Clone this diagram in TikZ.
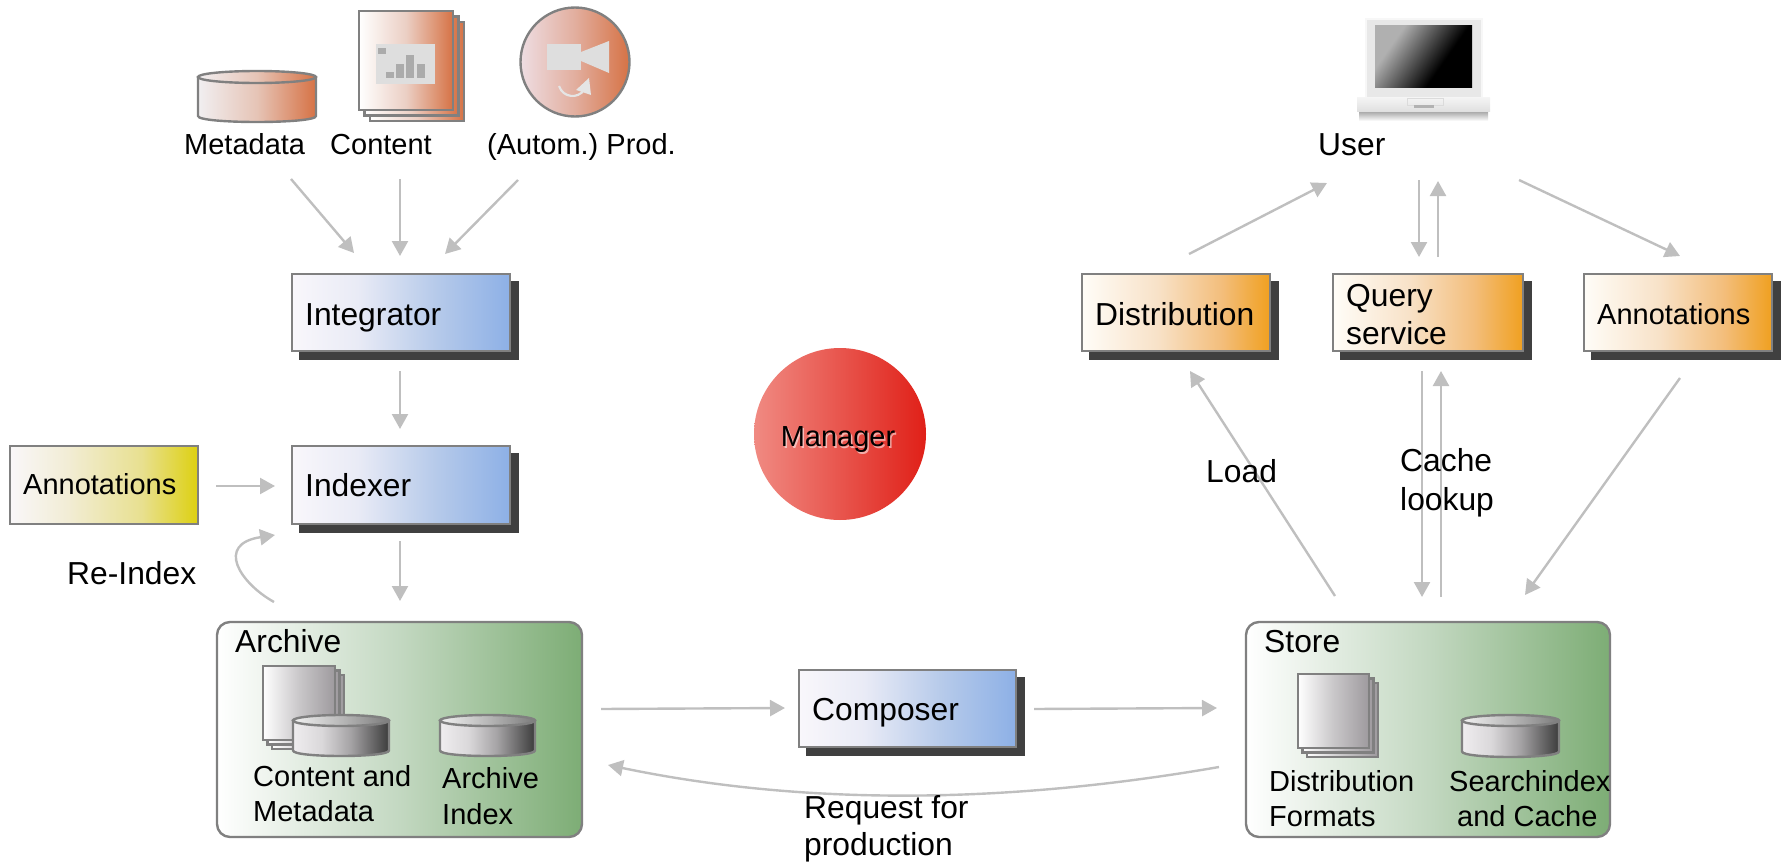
\documentclass[tikz,border=0pt]{standalone}
\usepackage{fontspec}
\setmainfont{Liberation Sans}
\usetikzlibrary{arrows.meta}
\definecolor{cWA}{HTML}{F9F7FB}\definecolor{cWB}{HTML}{E9EBF6}\definecolor{cWC}{HTML}{B6CAEA}\definecolor{cWD}{HTML}{8DB0E6}
\definecolor{cOA}{HTML}{FFFDF8}\definecolor{cOB}{HTML}{F8E2C8}\definecolor{cOC}{HTML}{F3BE7C}\definecolor{cOD}{HTML}{F0A020}
\definecolor{cYA}{HTML}{F9F7F9}\definecolor{cYB}{HTML}{F2EDD6}\definecolor{cYC}{HTML}{E8E090}\definecolor{cYD}{HTML}{DDD010}
\definecolor{cGA}{HTML}{FFFFFF}\definecolor{cGB}{HTML}{C3D8C1}\definecolor{cGC}{HTML}{7DAD75}
\definecolor{cDA}{HTML}{FFFFFF}\definecolor{cDB}{HTML}{C9C7C9}\definecolor{cDC}{HTML}{9E9A9E}
\definecolor{cCA}{HTML}{EFEDEF}\definecolor{cCB}{HTML}{DAD8DA}\definecolor{cCC}{HTML}{A5A3A5}\definecolor{cCD}{HTML}{3C3C3C}
\definecolor{cTA}{HTML}{F2F2F2}\definecolor{cTB}{HTML}{B8B8B8}\definecolor{cTC}{HTML}{7C7C7C}
\definecolor{cRA}{HTML}{FFFFFF}\definecolor{cRB}{HTML}{EBCFC4}\definecolor{cRC}{HTML}{D67245}
\definecolor{cSA}{HTML}{F1EFF1}\definecolor{cSB}{HTML}{E6C4B6}\definecolor{cSC}{HTML}{D67245}
\definecolor{cPA}{HTML}{EEDDE2}\definecolor{cPB}{HTML}{E2AE9E}\definecolor{cPC}{HTML}{D67245}
\definecolor{cMA}{HTML}{F08A82}\definecolor{cMB}{HTML}{E02018}
\definecolor{cLA}{HTML}{B0B0B0}\definecolor{cLB}{HTML}{000000}
\definecolor{edgegray}{HTML}{808080}\definecolor{arrowgray}{HTML}{BFBFBF}\definecolor{shadowgray}{HTML}{404040}
\pgfdeclarehorizontalshading{blueshade}{100bp}{color(0bp)=(cWA);color(25bp)=(cWA);color(40bp)=(cWB);color(58bp)=(cWC);color(75bp)=(cWD);color(100bp)=(cWD)}
\pgfdeclarehorizontalshading{orangeshade}{100bp}{color(0bp)=(cOA);color(25bp)=(cOA);color(45bp)=(cOB);color(62bp)=(cOC);color(75bp)=(cOD);color(100bp)=(cOD)}
\pgfdeclarehorizontalshading{yellowshade}{100bp}{color(0bp)=(cYA);color(25bp)=(cYA);color(40bp)=(cYB);color(60bp)=(cYC);color(75bp)=(cYD);color(100bp)=(cYD)}
\pgfdeclarehorizontalshading{greenshade}{100bp}{color(0bp)=(cGA);color(25bp)=(cGA);color(50bp)=(cGB);color(75bp)=(cGC);color(100bp)=(cGC)}
\pgfdeclarehorizontalshading{docshade}{100bp}{color(0bp)=(cDA);color(25bp)=(cDA);color(50bp)=(cDB);color(75bp)=(cDC);color(100bp)=(cDC)}
\pgfdeclarehorizontalshading{cylshade}{100bp}{color(0bp)=(cCA);color(25bp)=(cCA);color(40bp)=(cCB);color(55bp)=(cCC);color(75bp)=(cCD);color(100bp)=(cCD)}
\pgfdeclarehorizontalshading{cyltop}{100bp}{color(0bp)=(cTA);color(25bp)=(cTA);color(50bp)=(cTB);color(75bp)=(cTC);color(100bp)=(cTC)}
\pgfdeclarehorizontalshading{reddoc}{100bp}{color(0bp)=(cRA);color(25bp)=(cRA);color(50bp)=(cRB);color(75bp)=(cRC);color(100bp)=(cRC)}
\pgfdeclarehorizontalshading{redcyl}{100bp}{color(0bp)=(cSA);color(25bp)=(cSA);color(50bp)=(cSB);color(75bp)=(cSC);color(100bp)=(cSC)}
\pgfdeclarehorizontalshading{redcirc}{100bp}{color(0bp)=(cPA);color(25bp)=(cPA);color(50bp)=(cPB);color(75bp)=(cPC);color(100bp)=(cPC)}
\pgfdeclarehorizontalshading{mgrshade}{100bp}{color(0bp)=(cMA);color(25bp)=(cMA);color(75bp)=(cMB);color(100bp)=(cMB)}
\pgfdeclarehorizontalshading{screenshade}{100bp}{color(0bp)=(cLA);color(30bp)=(cLA);color(62bp)=(cLB);color(100bp)=(cLB)}
\tikzset{
  flow/.style={draw=arrowgray,line width=2.4pt,-{Triangle[length=15pt,width=16pt]}},
  txt/.style={anchor=base west,inner sep=0pt,font=\fontsize{31.8}{36}\selectfont},
  small/.style={anchor=base west,inner sep=0pt,font=\fontsize{29}{33}\selectfont},
  outline/.style={draw=edgegray,line width=2.4pt},
}
% \shbox{name}{x1}{y1}{x2}{y2}{shading}
\newcommand{\shbox}[6]{%
  \fill[shadowgray] ({#2+7},{#3+7}) rectangle ({#4+9},{#5+9});
  \node[outline,shading=#6,shading angle=0,minimum width={#4-#2},minimum height={#5-#3},inner sep=0pt,outer sep=0pt,anchor=north west] (#1) at (#2,#3) {};}
% \docstack{x1}{y1}{x2}{y2}{off}{shading}
\newcommand{\docstack}[6]{%
  \draw[outline,shading=#6,shading angle=0] ({#1+2*#5},{#2+2*#5}) rectangle ({#3+2*#5},{#4+2*#5});
  \draw[outline,shading=#6,shading angle=0] ({#1+#5},{#2+#5}) rectangle ({#3+#5},{#4+#5});
  \draw[outline,shading=#6,shading angle=0] (#1,#2) rectangle (#3,#4);}
% \cyl{x1}{ytop}{x2}{ybot}{ry}{body}{top}
\newcommand{\cyl}[7]{%
  \draw[outline,shading=#6,shading angle=0] (#1,{#2+#5}) -- (#1,{#4-#5}) .. controls (#1,{#4+#5/3}) and (#3,{#4+#5/3}) .. (#3,{#4-#5}) -- (#3,{#2+#5}) -- cycle;
  \draw[outline,shading=#7,shading angle=0] ({(#1+#3)/2},{#2+#5}) ellipse [x radius={(#3-#1)/2},y radius=#5];}
\begin{document}
\frenchspacing
\begin{tikzpicture}[x=1pt,y=-1pt]
\useasboundingbox (0,0) rectangle (1789,862);
% top sources
\cyl{198}{71}{316}{122}{6}{redcyl}{redcyl}
\docstack{359}{11}{453}{110}{5.5}{reddoc}
\fill[black!13] (376,44) rectangle (435,84);
\fill[black!33] (378,48) rectangle (386,54);
\fill[black!33] (386,72) rectangle (394,78);
\fill[black!33] (396,64) rectangle (404,78);
\fill[black!33] (406,55) rectangle (414,78);
\fill[black!33] (417,64) rectangle (425,78);
\node[outline,circle,shading=redcirc,shading angle=0,minimum size=109pt,inner sep=0pt] (prodicon) at (575,62) {};
\fill[black!13] (547,44) rectangle (581,70);
\fill[black!13] (581,52) -- (609,41) -- (609,73) -- (581,61) -- cycle;
\draw[black!10,line width=2.2pt] (559,86) .. controls (563,98) and (578,99) .. (584,90);
\fill[black!10] (589,78) -- (591,95) -- (576,90) -- cycle;
\node[small] (metadata) at (184,154) {Metadata};
\node[small] (content) at (330,154) {Content};
\node[small] (prod) at (487,154) {(Autom.) Prod.};
% laptop
\fill[black!3] (1365,18) rectangle (1483,100);
\fill[black!9] (1367,20) rectangle (1481,100);
\shade[shading=screenshade,shading angle=-35] (1375,25) rectangle (1472,87);
\shade[top color=black!40,bottom color=white] (1359,110) rectangle (1488,121);
\shade[top color=black!4,bottom color=black!12] (1357,97) -- (1490,97) -- (1490,111) -- (1357,111) -- cycle;
\draw[black!14,line width=1pt] (1407,98) rectangle (1443,105);
\fill[black!30] (1414,105) rectangle (1434,108);
\node[txt] (user) at (1318,155) {User};
% boxes
\shbox{integrator}{292}{274}{510}{351}{blueshade}
\shbox{indexer}{292}{446}{510}{524}{blueshade}
\shbox{composer}{799}{670}{1016}{747}{blueshade}
\shbox{distribution}{1082}{274}{1270}{351}{orangeshade}
\shbox{query}{1333}{274}{1523}{351}{orangeshade}
\shbox{annotright}{1584}{274}{1772}{351}{orangeshade}
\node[outline,shading=yellowshade,shading angle=0,minimum width=188pt,minimum height=78pt,inner sep=0pt,outer sep=0pt,anchor=north west] (annotleft) at (10,446) {};
\node[txt] (integratortext) at (305,325) {Integrator};
\node[txt] (indexertext) at (305,496) {Indexer};
\node[txt] (composertext) at (812,720) {Composer};
\node[txt] (distributiontext) at (1095,325) {Distribution};
\node[txt] (querytext) at (1346,306) {Query};
\node[txt] (servicetext) at (1346,344) {service};
\node[small] (annotrighttext) at (1597,324) {Annotations};
\node[small] (annotlefttext) at (23,494) {Annotations};
% manager
\node[circle,shading=mgrshade,shading angle=0,minimum size=172pt,inner sep=0pt] (manager) at (840,434) {};
\node[anchor=base,inner sep=0pt,text=white,text opacity=.55,font=\fontsize{29}{33}\selectfont] (managershadow) at (839.5,448) {Manager};
\node[anchor=base,inner sep=0pt,font=\fontsize{29}{33}\selectfont] (managertext) at (838,446.5) {Manager};
% archive
\node[outline,rounded corners=13pt,shading=greenshade,shading angle=0,minimum width=365pt,minimum height=215pt,inner sep=0pt,outer sep=0pt,anchor=north west] (archive) at (217,622) {};
\node[txt] (archivetext) at (235,652) {Archive};
\docstack{263}{666}{335}{740}{4.5}{docshade}
\cyl{293}{715}{389}{756}{5.5}{cylshade}{cyltop}
\cyl{440}{715}{535}{756}{5.5}{cylshade}{cyltop}
\node[small] (cm1) at (253,786) {Content and};
\node[small] (cm2) at (253,821) {Metadata};
\node[small] (ai1) at (442,788) {Archive};
\node[small] (ai2) at (442,824) {Index};
% store
\node[outline,rounded corners=13pt,shading=greenshade,shading angle=0,minimum width=364pt,minimum height=215pt,inner sep=0pt,outer sep=0pt,anchor=north west] (store) at (1246,622) {};
\node[txt] (storetext) at (1264,652) {Store};
\docstack{1298}{674}{1369}{748}{4.5}{docshade}
\cyl{1462}{715}{1559}{757}{5.5}{cylshade}{cyltop}
\node[small] (df1) at (1269,791) {Distribution};
\node[small] (df2) at (1269,826) {Formats};
\node[small] (sc1) at (1449,791) {Searchindex};
\node[small] (sc2) at (1457,826) {and Cache};
% free connector ends
\foreach \n/\px/\py in {
 metaA/291/179, metaB/354/253, contA/400/179, contB/400/256, prodA/518/180, prodB/445/254,
 intA/400/371, intB/400/429, annA/216/486, annB/275/486, idxA/400/541, idxB/400/601,
 reA/274/602, reB/275/535,
 acA/601/709, acB/785/708, csA/1034/709, csB/1217/708, rqA/1219/767, rqB/608/765,
 duA/1189/254, duB/1327/183, uqA/1419/180, uqB/1419/257, quA/1438/257, quB/1438/181,
 uaA/1519/180, uaB/1680/256, sdA/1335/596, sdB/1190/371, qsA/1422/371, qsB/1422/597,
 sqA/1441/597, sqB/1441/371, asA/1680/378, asB/1525/595}
 {\coordinate (\n) at (\px,\py);}
\draw[flow] (metaA) -- (metaB);
\draw[flow] (contA) -- (contB);
\draw[flow] (prodA) -- (prodB);
\draw[flow] (intA) -- (intB);
\draw[flow] (annA) -- (annB);
\draw[flow] (idxA) -- (idxB);
\draw[flow] (reA) .. controls (240,583) and (215,544) .. (reB);
\draw[flow] (acA) -- (acB);
\draw[flow] (csA) -- (csB);
\draw[flow] (rqA) .. controls (1000,805) and (800,805) .. (rqB);
\draw[flow] (duA) -- (duB);
\draw[flow] (uqA) -- (uqB);
\draw[flow] (quA) -- (quB);
\draw[flow] (uaA) -- (uaB);
\draw[flow] (sdA) -- (sdB);
\draw[flow] (qsA) -- (qsB);
\draw[flow] (sqA) -- (sqB);
\draw[flow] (asA) -- (asB);
% labels
\node[txt] (reindex) at (67,584) {Re-Index};
\node[txt] (load) at (1206,482) {Load};
\node[txt] (cache) at (1400,471) {Cache};
\node[txt] (lookup) at (1400,510) {lookup};
\node[txt] (request) at (804,818) {Request for};
\node[txt] (production) at (804,855) {production};
\end{tikzpicture}
\end{document}
